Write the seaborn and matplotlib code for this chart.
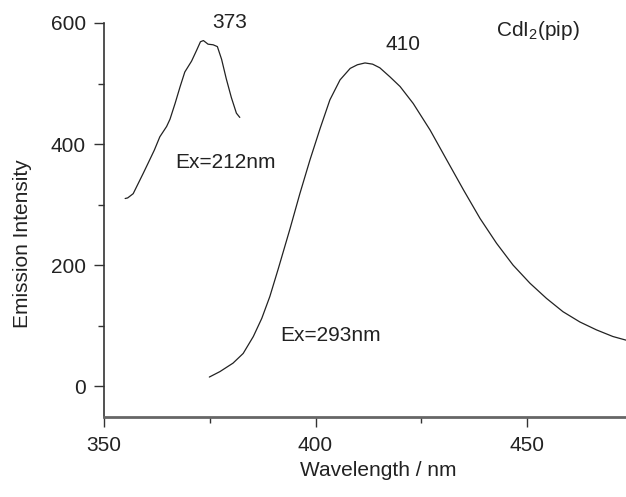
#!/usr/bin/env python3
"""Emission spectra of CdI2(pip) at two excitation wavelengths."""

import numpy as np
import pandas as pd
import matplotlib
matplotlib.use("Agg")
import matplotlib.pyplot as plt
import seaborn as sns
from matplotlib.ticker import MultipleLocator

# Ex = 212 nm emission band
wl_212 = [355.0, 355.6, 356.9, 358.1, 359.3, 360.4, 361.9, 363.2, 364.8, 365.6,
          366.8, 368.0, 369.1, 370.7, 371.9, 372.8, 373.5, 374.6, 375.8, 376.8,
          377.8, 378.9, 380.1, 381.3, 382.1]
int_212 = [310, 311, 318, 335, 352, 368, 390, 412, 429, 441,
           467, 495, 519, 537, 555, 569, 571, 565, 564, 561,
           540, 508, 477, 451, 444]

# Ex = 293 nm emission band
wl_293 = [374.9, 377.4, 380.5, 382.9, 385.3, 387.3, 389.2, 391.2, 393.97, 396.3,
          398.7, 401.1, 403.4, 405.8, 408.2, 409.9, 411.7, 413.5, 415.2, 417.6,
          420.0, 423.1, 427.1, 431.0, 435.0, 438.9, 442.8, 446.7, 450.7, 454.6,
          458.5, 462.5, 466.4, 470.3, 473.4]
int_293 = [15, 24, 38, 54, 82, 112, 148, 194, 260, 318,
           374, 426, 473, 506, 525, 531, 534, 532, 526, 511,
           495, 467, 423, 374, 324, 277, 236, 200, 170, 145,
           123, 106, 93, 82, 76]

x_ticks = [350, 400, 450]
y_ticks = [0, 200, 400, 600]

sns.set_style("ticks")
plt.rcParams['font.family'] = ['Liberation Sans', 'DejaVu Sans']
plt.rcParams['mathtext.fontset'] = 'custom'
plt.rcParams['mathtext.rm'] = 'Liberation Sans'
plt.rcParams['mathtext.it'] = 'Liberation Sans'

FS = 15

fig = plt.figure(figsize=(6.26, 4.97), dpi=100)
ax = fig.add_axes([104 / 626, 80 / 497, 522 / 626, 394 / 497])

df1 = pd.DataFrame({'wl': wl_212, 'I': int_212})
df2 = pd.DataFrame({'wl': wl_293, 'I': int_293})
sns.lineplot(data=df1, x='wl', y='I', ax=ax, color='#222222', lw=0.9,
             estimator=None, sort=False)
sns.lineplot(data=df2, x='wl', y='I', ax=ax, color='#222222', lw=0.9,
             estimator=None, sort=False)

ax.set_xlim(350, 473.4)
ax.set_ylim(-51, 600)
ax.set_xticks(x_ticks)
ax.set_yticks(y_ticks)
ax.xaxis.set_minor_locator(MultipleLocator(25))
ax.yaxis.set_minor_locator(MultipleLocator(100))

# spines: left thin dark, bottom thicker grey, no top/right
sns.despine(ax=ax)
ax.spines['left'].set_color('#333333')
ax.spines['left'].set_linewidth(1.2)
ax.spines['bottom'].set_color('#666666')
ax.spines['bottom'].set_linewidth(2.0)

ax.tick_params(which='major', length=7, width=1.0, color='#333333',
               labelsize=FS, labelcolor='#222222', pad=6)
ax.tick_params(which='minor', length=4, width=1.0, color='#333333')
ax.tick_params(axis='x', which='major', pad=7)

ax.set_xlabel('Wavelength / nm', fontsize=FS, color='#222222')
ax.set_ylabel('Emission Intensity', fontsize=FS, color='#222222')
ax.xaxis.set_label_coords(0.525, -0.112)
ax.yaxis.set_label_coords(-0.138, 0.44)

txt = dict(fontsize=FS, color='#222222', ha='center', va='center')
ax.text(379.8, 600, '373', **txt)
ax.text(420.7, 564, '410', **txt)
ax.text(378.7, 369, 'Ex=212nm', **txt)
ax.text(403.6, 83, 'Ex=293nm', **txt)
ax.text(452.6, 588, r'CdI$_{2}$(pip)', **txt)

fig.savefig('out.png', dpi=100)
